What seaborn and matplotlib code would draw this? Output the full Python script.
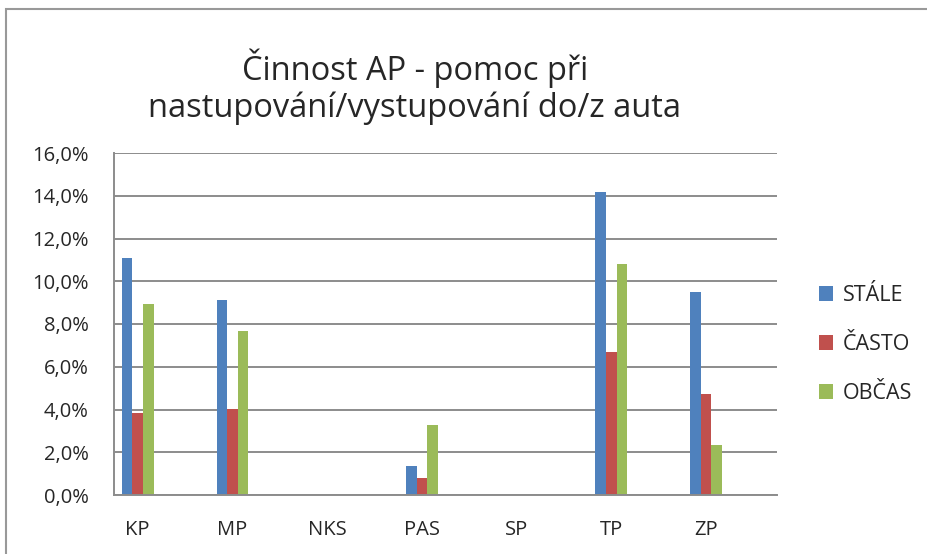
import numpy as np
import pandas as pd
import matplotlib
matplotlib.use("Agg")
import matplotlib.pyplot as plt
import seaborn as sns
from matplotlib.patches import Rectangle
from matplotlib.ticker import FuncFormatter, MultipleLocator

# data (percent)
categories = ["KP", "MP", "NKS", "PAS", "SP", "TP", "ZP"]
series = ["STÁLE", "ČASTO", "OBČAS"]
stale = [11.09, 9.14, 0.0, 1.34, 0.0, 14.16, 9.51]
casto = [3.84, 4.02, 0.0, 0.81, 0.0, 6.67, 4.74]
obcas = [8.95, 7.66, 0.0, 3.29, 0.0, 10.82, 2.35]
colors = ["#4F81BD", "#C0504D", "#9BBB59"]

df = pd.DataFrame({
    "kategorie": categories * 3,
    "serie": [s for s in series for _ in categories],
    "hodnota": stale + casto + obcas,
})

sns.set_style("white")
plt.rcParams["font.family"] = ["Open Sans", "DejaVu Sans"]

W, H = 928, 554
fig = plt.figure(figsize=(W / 100, H / 100), dpi=100)
ax = fig.add_axes([114 / W, 1 - 495 / H, (777 - 114) / W, (495 - 153) / H])

sns.barplot(data=df, x="kategorie", y="hodnota", hue="serie", order=categories,
            hue_order=series, palette=colors, width=0.335, saturation=1,
            edgecolor="none", linewidth=0, gap=0, ax=ax)

ax.set_xlim(-0.25, 6.75)
ax.set_ylim(0, 16)
ax.yaxis.set_major_locator(MultipleLocator(2))
ax.yaxis.set_major_formatter(FuncFormatter(lambda v, p: f"{v:.1f}%".replace(".", ",")))
ax.grid(axis="y", color="#8c8c8c", linewidth=1.4)
ax.set_axisbelow(True)

grey = "#8c8c8c"
for side in ["top", "right"]:
    ax.spines[side].set_visible(False)
for side in ["left", "bottom"]:
    ax.spines[side].set_color(grey)
    ax.spines[side].set_linewidth(1.4)

# category labels without marks, boundary marks every half unit
ax.set_xticks(range(len(categories)))
ax.set_xticklabels(categories)
ax.set_xticks(np.arange(-0.25, 6.8, 0.5), minor=True)
ax.tick_params(axis="x", which="major", length=0, pad=18, labelsize=14.5)
ax.tick_params(axis="x", which="minor", length=7, width=1.4, color=grey, direction="out")
ax.tick_params(axis="y", length=7, width=1.4, color=grey, direction="out", labelsize=14.5, pad=11)
ax.set_xlabel("")
ax.set_ylabel("")

leg = ax.legend(loc="center left", bbox_to_anchor=(1.063, 0.44), frameon=False,
                fontsize=15.5, handlelength=0.65, handleheight=0.65, handletextpad=0.45,
                labelspacing=1.3, borderpad=0, borderaxespad=0)

fig.text(415 / W, 1 - 68 / H, "Činnost AP - pomoc při", ha="center", va="center", fontsize=23.5)
fig.text(415 / W, 1 - 108 / H, "nastupování/vystupování do/z auta", ha="center", va="center", fontsize=23.5)

fig.patches.append(Rectangle((6 / W, -0.05), 1.0, 1 - 9 / H + 0.05, transform=fig.transFigure,
                             fill=False, edgecolor="#999999", linewidth=1.5))

fig.savefig("out.png", dpi=100)
